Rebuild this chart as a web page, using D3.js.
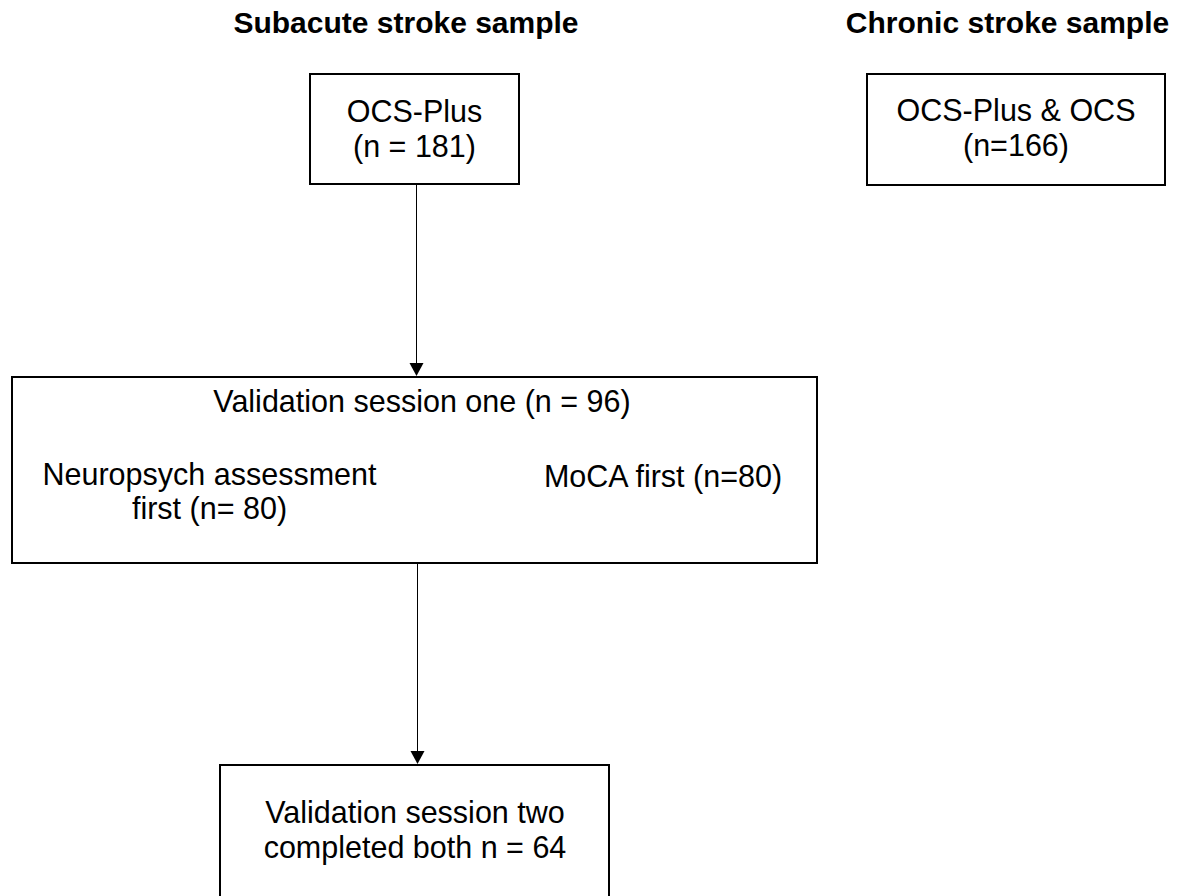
<!DOCTYPE html>
<html>
<head>
<meta charset="utf-8">
<script src="https://cdn.jsdelivr.net/npm/d3@7"></script>
<style>
  body { margin: 0; background: #fff; }
  text { font-family: "Liberation Sans", Arial, sans-serif; fill: #000; }
</style>
</head>
<body>
<div class="canvas"></div>
<script>
// sample titles
const sampleTitles = ["Subacute stroke sample", "Chronic stroke sample"];

// box texts, one entry per line
const boxIds = ["ocsPlus", "chronic", "session1", "session2"];
const boxLines = {
  ocsPlus: ["OCS-Plus", "(n = 181)"],
  chronic: ["OCS-Plus & OCS", "(n=166)"],
  session1: ["Validation session one (n = 96)"],
  session2: ["Validation session two", "completed both n = 64"]
};
const groupLines = [
  ["Neuropsych assessment", "first (n= 80)"],
  ["MoCA first (n=80)"]
];

// arrows between boxes
const links = [
  { source: "ocsPlus", target: "session1" },
  { source: "session1", target: "session2" }
];

const width = 1177;
const height = 896;
const fontSize = 30.5;
const lineGap = 35;

// layout of the boxes (pixels)
const layout = {
  ocsPlus: { x0: 310, x1: 519, y0: 74, y1: 184, tx: 414.5, ty: 122 },
  chronic: { x0: 867, x1: 1165, y0: 74, y1: 185, tx: 1016, ty: 121 },
  session1: { x0: 12, x1: 817, y0: 377, y1: 563, tx: 422, ty: 412 },
  session2: { x0: 220, x1: 609, y0: 765, y1: 905, tx: 415, ty: 823 }
};
const groupLayout = [
  { tx: 209.5, ty: 485, gap: 34 },
  { tx: 663, ty: 487, gap: 34 }
];
const titleLayout = [
  { tx: 406, ty: 33 },
  { tx: 1007.5, ty: 33 }
];
const arrowX = { ocsPlus: 416.5, session1: 417.5 };

const svg = d3
  .select(".canvas")
  .append("svg")
  .attr("width", width)
  .attr("height", height);

// titles
svg
  .selectAll("text.title")
  .data(sampleTitles)
  .enter()
  .append("text")
  .attr("class", "title")
  .attr("x", (d, i) => titleLayout[i].tx)
  .attr("y", (d, i) => titleLayout[i].ty)
  .attr("text-anchor", "middle")
  .style("font-size", "30px")
  .style("font-weight", "bold")
  .text((d) => d);

// arrows
const arrowGroup = svg.append("g");
links.forEach((l) => {
  const s = layout[l.source];
  const t = layout[l.target];
  const x = arrowX[l.source];
  const tip = t.y0 - 1;
  arrowGroup
    .append("line")
    .attr("x1", x)
    .attr("x2", x)
    .attr("y1", s.y1)
    .attr("y2", tip - 10)
    .attr("stroke", "#000")
    .attr("stroke-width", 1);
  arrowGroup
    .append("path")
    .attr("d", d3.line()([[x - 7, tip - 13], [x + 7, tip - 13], [x, tip]]) + "Z")
    .attr("fill", "#000");
});

// boxes
const boxes = svg
  .selectAll("g.box")
  .data(boxIds)
  .enter()
  .append("g")
  .attr("class", "box");

boxes
  .append("rect")
  .attr("x", (d) => layout[d].x0)
  .attr("y", (d) => layout[d].y0)
  .attr("width", (d) => layout[d].x1 - layout[d].x0)
  .attr("height", (d) => layout[d].y1 - layout[d].y0)
  .attr("fill", "none")
  .attr("stroke", "#000")
  .attr("stroke-width", 2);

boxes.each(function (d) {
  const g = d3.select(this);
  boxLines[d].forEach((line, i) => {
    g.append("text")
      .attr("x", layout[d].tx)
      .attr("y", layout[d].ty + i * lineGap)
      .attr("text-anchor", "middle")
      .style("font-size", fontSize + "px")
      .text(line);
  });
});

// the two order groups inside session one
groupLines.forEach((lines, gi) => {
  lines.forEach((line, i) => {
    svg
      .append("text")
      .attr("x", groupLayout[gi].tx)
      .attr("y", groupLayout[gi].ty + i * groupLayout[gi].gap)
      .attr("text-anchor", "middle")
      .style("font-size", fontSize + "px")
      .text(line);
  });
});
</script>
</body>
</html>
